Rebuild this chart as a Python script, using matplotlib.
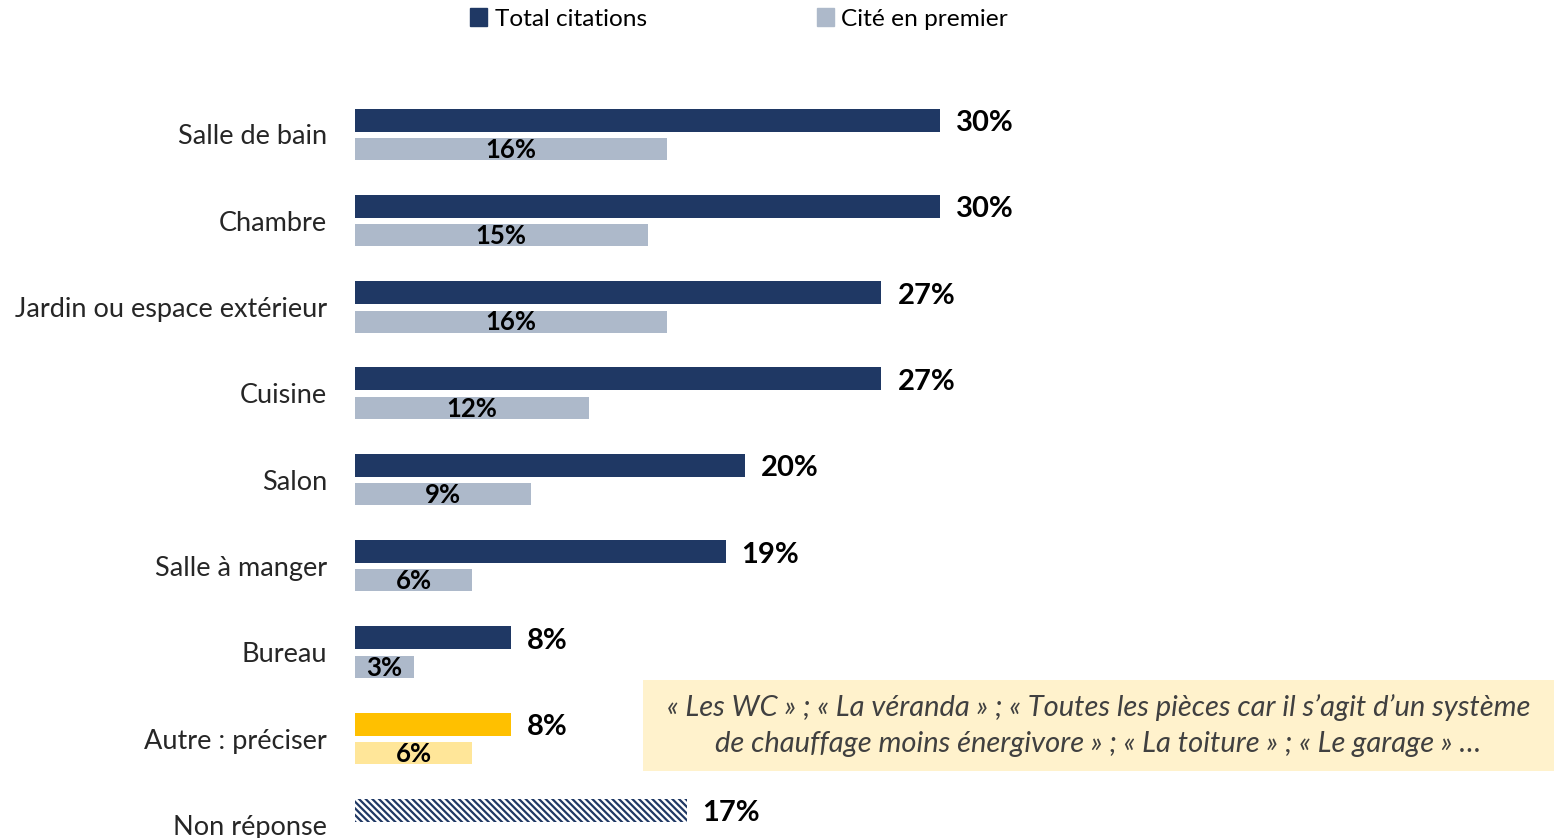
import matplotlib
matplotlib.use('Agg')
import matplotlib.pyplot as plt
from matplotlib.patches import Patch

plt.rcParams['font.family'] = ['Lato', 'DejaVu Sans']
plt.rcParams['hatch.linewidth'] = 1.6

# données
categories = ['Salle de bain', 'Chambre', 'Jardin ou espace extérieur', 'Cuisine',
              'Salon', 'Salle à manger', 'Bureau', 'Autre : préciser', 'Non réponse']
total_citations = [30, 30, 27, 27, 20, 19, 8, 8, 17]
cite_premier = [16, 15, 16, 12, 9, 6, 3, 6]
autres_reponses = ("« Les WC » ; « La véranda » ; « Toutes les pièces car il s’agit d’un système\n"
                   "de chauffage moins énergivore » ; « La toiture » ; « Le garage » …")

navy = '#1F3864'
grey_blue = '#ADB9CA'
gold = '#FFC000'
gold_light = '#FFE699'

W, H = 1554, 838
fig = plt.figure(figsize=(W / 100, H / 100), dpi=100)
ax = fig.add_axes([355 / W, 0, (W - 355) / W, 1])

px_per_pct = 19.5
step = 86.3
first_center = 134.5
ax.set_xlim(0, (W - 355) / px_per_pct)
ax.set_ylim((H - first_center) / step, -first_center / step)

off = 0.168
h_dark = 23 / step
h_light = 22 / step

for i, cat in enumerate(categories):
    val = total_citations[i]
    if cat == 'Non réponse':
        ax.barh(i - off, val, height=h_dark, color='white', edgecolor=navy,
                hatch='\\\\\\\\\\', linewidth=0)
    else:
        c1 = gold if cat.startswith('Autre') else navy
        c2 = gold_light if cat.startswith('Autre') else grey_blue
        ax.barh(i - off, val, height=h_dark, color=c1)
        ax.barh(i + off, cite_premier[i], height=h_light, color=c2)
        ax.text(cite_premier[i] / 2, i + off + 0.01, f'{cite_premier[i]}%',
                ha='center', va='center', fontsize=18.5, fontweight='bold', color='black')
    ax.text(val + 16 / px_per_pct, i - off + 0.035, f'{val}%', ha='left', va='center',
            fontsize=21, fontweight='bold', color='black')

ax.set_yticks(range(len(categories)))
ax.set_yticklabels(categories, fontsize=19.5, color='#262626')
ax.tick_params(axis='y', length=0, pad=20)
ax.set_xticks([])
for s in ax.spines.values():
    s.set_visible(False)

# encadré des autres réponses
box_ax = fig.add_axes([643 / W, (H - 771) / H, (W - 643) / W, 91 / H])
box_ax.set_facecolor('#FFF2CC')
box_ax.set_xticks([])
box_ax.set_yticks([])
for s in box_ax.spines.values():
    s.set_visible(False)
box_ax.text(0.5, 0.5, autres_reponses, ha='center', va='center', fontsize=21,
            style='italic', color='#404040', linespacing=1.45, transform=box_ax.transAxes)

handles = [Patch(color=navy, label='Total citations'),
           Patch(color=grey_blue, label='Cité en premier')]
fig.legend(handles=handles, loc='center', bbox_to_anchor=(739 / W, 1 - 19 / H), ncol=2,
           frameon=False, fontsize=17.6, handlelength=0.7, handleheight=0.7,
           handletextpad=0.3, columnspacing=6.95)

fig.savefig('out.png', dpi=100)
